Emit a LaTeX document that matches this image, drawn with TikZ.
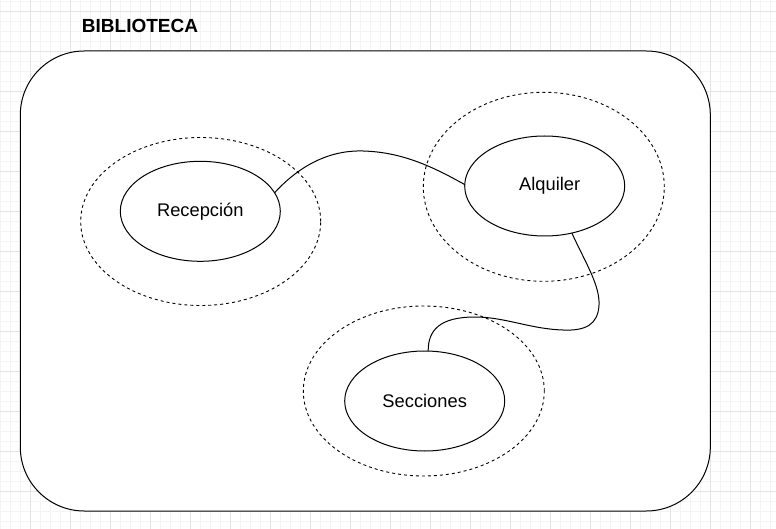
\documentclass[tikz,border=0pt]{standalone}
\usepackage{fontspec}
\setmainfont{Liberation Sans}
\usetikzlibrary{shapes.geometric}
\definecolor{gridminor}{RGB}{244,244,244}
\definecolor{gridmajor}{RGB}{228,228,228}
\tikzset{
  inner/.style={draw, ellipse, line width=1pt, inner sep=0pt, outer sep=0pt, minimum width=160pt, minimum height=100pt, font=\fontsize{18.3}{20}\selectfont},
  outer/.style={draw, ellipse, line width=0.9pt, dash pattern=on 3pt off 3pt, inner sep=0pt, outer sep=0pt},
  link/.style={line width=1pt},
}
\begin{document}
\begin{tikzpicture}[x=1pt,y=-1pt]
\useasboundingbox (0,0) rectangle (776,529);
% grid
\foreach \i in {0,...,77} {\draw[gridminor, line width=0.8pt] (0.7+10*\i,0) -- (0.7+10*\i,529);}
\foreach \i in {0,...,52} {\draw[gridminor, line width=0.8pt] (0,1.5+10*\i) -- (776,1.5+10*\i);}
\foreach \i in {0,...,19} {\draw[gridmajor, line width=0.8pt] (30.7+40*\i,0) -- (30.7+40*\i,529);}
\foreach \i in {0,...,13} {\draw[gridmajor, line width=0.8pt] (0,11.5+40*\i) -- (776,11.5+40*\i);}
% container
\node[draw, fill=white, line width=1pt, rounded corners=64pt, minimum width=690pt, minimum height=460pt, inner sep=0pt, outer sep=0pt] (box) at (365.3,281) {};
\node[font=\fontsize{19}{22}\bfseries] (title) at (140,25.5) {BIBLIOTECA};
% dashed zones
\node[outer, minimum width=240pt, minimum height=168pt] (recz) at (200.7,221.5) {};
\node[outer, minimum width=241pt, minimum height=189pt] (alqz) at (543.8,186.8) {};
\node[outer, minimum width=241pt, minimum height=170pt] (secz) at (423.8,391) {};
% ellipses
\node[inner] (rec) at (200.3,211.3) {Recepción};
\node[inner] (alq) at (544.7,186) {\hspace*{10pt}Alquiler};
\node[inner] (sec) at (424.7,401) {Secciones};
% connectors
\draw[link] (rec.14.5) .. controls (300,165) and (330,150) .. (363,151)
  .. controls (400,152) and (430,165) .. (alq.179);
\draw[link] (alq.-60.3) .. controls (585,262) and (600,285) .. (599,305)
  .. controls (598,325) and (585,331) .. (563,330)
  .. controls (530,329) and (505,317) .. (475,317)
  .. controls (440,317) and (428,330) .. (sec.86.6);
\end{tikzpicture}
\end{document}
